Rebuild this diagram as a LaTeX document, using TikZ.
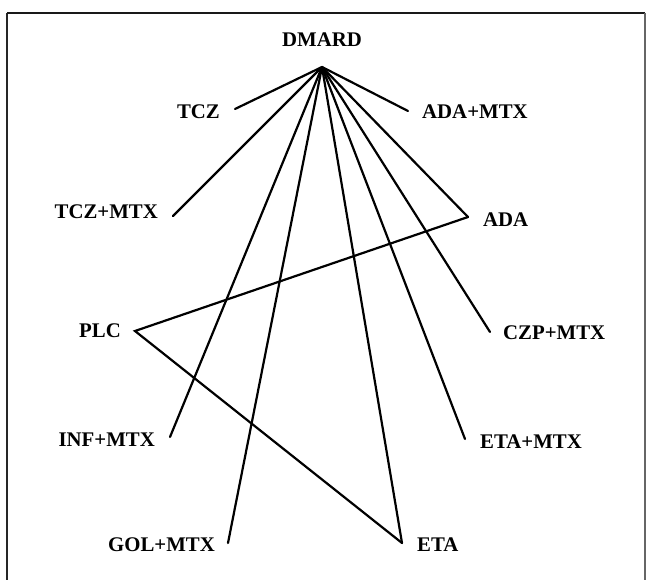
\documentclass[tikz,border=0pt]{standalone}
\usepackage{fontspec}
\setmainfont{Liberation Serif}
\begin{document}
\begin{tikzpicture}[x=1pt,y=1pt,
    lbl/.style={font=\fontsize{20.8}{22}\selectfont\bfseries, inner sep=0pt,
                text height=13.8pt, text depth=0pt},
    edge/.style={line width=2.2pt, line cap=round, line join=miter}]
\useasboundingbox (0,0) rectangle (647,579);
% frame
\draw[line width=1.3pt, black!85] (7,-5) -- (7,566);
\draw[line width=1.8pt, black!90] (7,566) -- (645,566);
\draw[line width=1.3pt, black!60] (645,566) -- (645,-5);

% end points of the connectors
\coordinate (hub) at (322,512);
\coordinate (tczE) at (235,470);
\coordinate (tczmtxE) at (173,363);
\coordinate (adamtxE) at (408,468);
\coordinate (adaE) at (468,362);
\coordinate (plcE) at (135,248);
\coordinate (infE) at (170,142);
\coordinate (czpE) at (490,247);
\coordinate (etamtxE) at (465,140);
\coordinate (golE) at (228,36);
\coordinate (etaE) at (402,36);

% labels
\node[lbl] (dmard) at (322,539) {DMARD};
\node[lbl, anchor=east] (tcz) at (220,467) {TCZ};
\node[lbl, anchor=east] (tczmtx) at (158,367) {TCZ+MTX};
\node[lbl, anchor=west] (adamtx) at (422,467) {ADA+MTX};
\node[lbl, anchor=west] (ada) at (483,359) {ADA};
\node[lbl, anchor=east] (plc) at (121,248) {PLC};
\node[lbl, anchor=east] (infmtx) at (155,139) {INF+MTX};
\node[lbl, anchor=west] (czpmtx) at (503,246) {CZP+MTX};
\node[lbl, anchor=west] (etamtx) at (480,137) {ETA+MTX};
\node[lbl, anchor=east] (golmtx) at (215,34) {GOL+MTX};
\node[lbl, anchor=west] (eta) at (417,34) {ETA};

% comparisons with DMARD
\foreach \t in {tczE,tczmtxE,adamtxE,adaE,infE,golE,etaE,etamtxE,czpE}
  \draw[edge] (hub) -- (\t);
% comparisons with placebo
\draw[edge] (adaE) -- (plcE) -- (etaE);
\end{tikzpicture}
\end{document}
